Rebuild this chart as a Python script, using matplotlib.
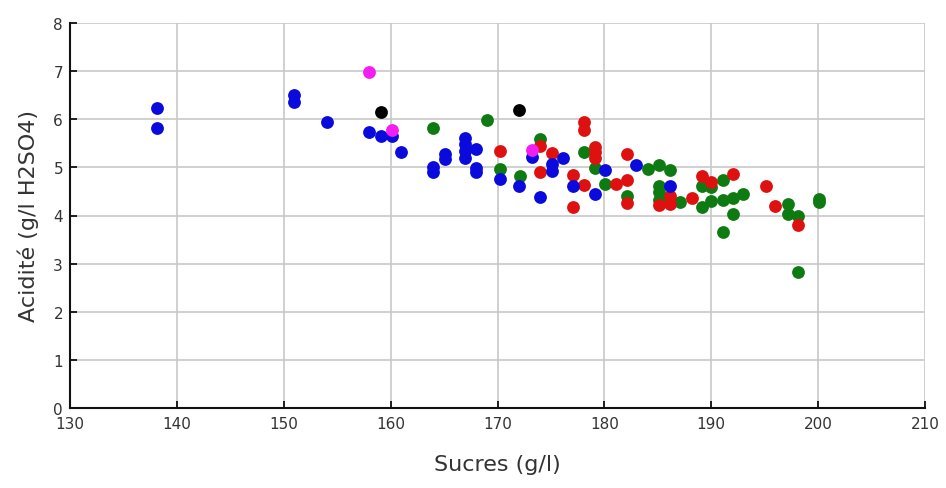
import matplotlib
matplotlib.use("Agg")
import matplotlib.pyplot as plt

blue_x = [138.1, 138.1, 151, 151, 154, 158, 159.1, 160.1, 161, 164, 164, 165.1, 165.1,
          167, 167, 167, 167, 168, 168, 168, 170.2, 172, 173.2, 174, 175.1, 175.1,
          176.1, 177.1, 179.1, 180.1, 183, 186.1]
blue_y = [6.23, 5.81, 6.5, 6.36, 5.95, 5.74, 5.66, 5.65, 5.32, 5.0, 4.9, 5.28, 5.18,
          5.62, 5.48, 5.33, 5.2, 5.38, 4.99, 4.9, 4.75, 4.62, 5.21, 4.38, 5.07, 4.93,
          5.19, 4.62, 4.45, 4.95, 5.05, 4.62]

red_x = [170.2, 174, 174, 175.1, 177.1, 177.1, 178.1, 178.1, 178.1, 179.1, 179.1, 179.1,
         181.1, 182.1, 182.1, 182.1, 185.1, 186.1, 186.1, 188.2, 189.1, 190, 192, 195.1,
         196, 198.1]
red_y = [5.34, 5.45, 4.9, 5.3, 4.85, 4.17, 5.95, 5.77, 4.63, 5.42, 5.31, 5.2,
         4.65, 5.28, 4.74, 4.27, 4.22, 4.4, 4.24, 4.37, 4.83, 4.69, 4.87, 4.61,
         4.19, 3.8]

green_x = [164, 169, 170.2, 172.1, 174, 178.1, 179.1, 180.1, 182.1, 184.1, 185.1, 185.1,
           185.1, 185.1, 186.1, 187.1, 189.1, 189.1, 190, 190, 191.1, 191.1, 191.1, 192,
           192, 193, 197.2, 197.2, 198.1, 198.1, 200.1, 200.1]
green_y = [5.81, 5.99, 4.97, 4.82, 5.58, 5.31, 4.98, 4.65, 4.41, 4.97, 5.04, 4.62,
           4.48, 4.33, 4.94, 4.28, 4.62, 4.18, 4.6, 4.3, 4.73, 4.32, 3.66, 4.37,
           4.03, 4.45, 4.24, 4.03, 4.0, 2.83, 4.35, 4.28]

magenta_x = [158, 160.1, 173.2]
magenta_y = [6.98, 5.77, 5.37]

black_x = [159.1, 172]
black_y = [6.16, 6.2]

x_ticks = [130, 140, 150, 160, 170, 180, 190, 200, 210]
y_ticks = [0, 1, 2, 3, 4, 5, 6, 7, 8]
x_label = "Sucres (g/l)"
y_label = "Acidité (g/l H2SO4)"

plt.rcParams['font.family'] = ['DejaVu Sans']

fig = plt.figure(figsize=(9.46, 4.89), dpi=100)
ax = fig.add_axes([70/946, 1-409/489, 855/946, 385/489])

s = 85
ax.scatter(green_x, green_y, s=s, color='#0E7B12', zorder=3, linewidths=0)
ax.scatter(red_x, red_y, s=s, color='#DE1010', zorder=4, linewidths=0)
ax.scatter(blue_x, blue_y, s=s, color='#0A0ADC', zorder=5, linewidths=0)
ax.scatter(magenta_x, magenta_y, s=s, color='#F21EF2', zorder=6, linewidths=0)
ax.scatter(black_x, black_y, s=s, color='#000000', zorder=7, linewidths=0)

ax.set_xlim(130, 210)
ax.set_ylim(0, 8)
ax.set_xticks(x_ticks)
ax.set_yticks(y_ticks)
ax.grid(True, color='#C8C8C8', linewidth=1.2, zorder=0)
ax.set_axisbelow(True)
for side in ['top', 'right']:
    ax.spines[side].set_visible(False)
for side in ['left', 'bottom']:
    ax.spines[side].set_linewidth(1.5)
    ax.spines[side].set_color('#111111')
ax.tick_params(direction='in', length=5, width=1.3, labelsize=11, colors='#111111',
               labelcolor='#333333')
ax.tick_params(axis='x', pad=6)
ax.tick_params(axis='y', pad=5)
ax.set_xlabel(x_label, fontsize=16, color='#333333', labelpad=16)
ax.set_ylabel(y_label, fontsize=16, color='#333333', labelpad=10)

fig.savefig("out.png", dpi=100)
